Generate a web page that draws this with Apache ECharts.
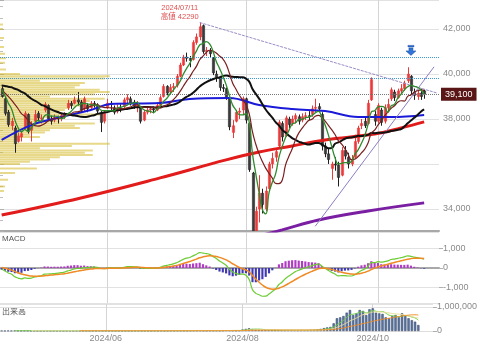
<!DOCTYPE html>
<html><head><meta charset="utf-8">
<script src="https://cdn.jsdelivr.net/npm/echarts@6/dist/echarts.min.js"></script>
<style>html,body{margin:0;padding:0;background:#fff}#c{width:480px;height:350px}</style>
</head><body><div id="c"></div><script>
// ---- DATA ----
const dates = ['2024/04/15','2024/04/16','2024/04/17','2024/04/18','2024/04/19','2024/04/22','2024/04/23','2024/04/24','2024/04/25','2024/04/26','2024/04/30',
'2024/05/01','2024/05/02','2024/05/07','2024/05/08','2024/05/09','2024/05/10','2024/05/13','2024/05/14','2024/05/15','2024/05/16','2024/05/17','2024/05/20','2024/05/21','2024/05/22','2024/05/23','2024/05/24','2024/05/27','2024/05/28','2024/05/29','2024/05/30','2024/05/31',
'2024/06/03','2024/06/04','2024/06/05','2024/06/06','2024/06/07','2024/06/10','2024/06/11','2024/06/12','2024/06/13','2024/06/14','2024/06/17','2024/06/18','2024/06/19','2024/06/20','2024/06/21','2024/06/24','2024/06/25','2024/06/26','2024/06/27','2024/06/28',
'2024/07/01','2024/07/02','2024/07/03','2024/07/04','2024/07/05','2024/07/08','2024/07/09','2024/07/10','2024/07/11','2024/07/12','2024/07/16','2024/07/17','2024/07/18','2024/07/19','2024/07/22','2024/07/23','2024/07/24','2024/07/25','2024/07/26','2024/07/29','2024/07/30','2024/07/31',
'2024/08/01','2024/08/02','2024/08/05','2024/08/06','2024/08/07','2024/08/08','2024/08/09','2024/08/13','2024/08/14','2024/08/15','2024/08/16','2024/08/19','2024/08/20','2024/08/21','2024/08/22','2024/08/23','2024/08/26','2024/08/27','2024/08/28','2024/08/29','2024/08/30',
'2024/09/02','2024/09/03','2024/09/04','2024/09/05','2024/09/06','2024/09/09','2024/09/10','2024/09/11','2024/09/12','2024/09/13','2024/09/17','2024/09/18','2024/09/19','2024/09/20','2024/09/24','2024/09/25','2024/09/26','2024/09/27','2024/09/30',
'2024/10/01','2024/10/02','2024/10/03','2024/10/04','2024/10/07','2024/10/08','2024/10/09','2024/10/10','2024/10/11','2024/10/15','2024/10/16','2024/10/17','2024/10/18','2024/10/21','2024/10/22'];
const padSlots = ['p1','p2','p3','p4'];
const monthTickLabels = ['2024/06','2024/08','2024/10'];

// [open, close, low, high]
const ohlc = [
[39350,39000,38950,39450],[38900,38250,38150,39000],[38300,37750,37650,38400],[37700,37900,37500,38050],[37600,36900,36500,37700],
[37000,37250,36950,37400],[37200,37350,37000,37450],[37600,38250,37550,38350],[38200,37450,37350,38250],[37500,37750,37000,37900],
[37900,38200,37800,38400],[38250,38050,37900,38350],[38000,38050,37800,38200],[38400,38650,38300,38750],[38600,38000,37950,38650],
[38000,37900,37750,38150],[37950,38050,37850,38200],[38050,38000,37800,38150],[38000,38150,37900,38250],[38150,38200,38000,38300],
[38500,38700,38400,38850],[38700,38600,38450,38800],[38700,38850,38650,39000],[38850,38750,38600,39200],[38750,38400,38300,38850],
[38450,38900,38350,39000],[38600,38450,38300,38700],[38500,38700,38450,38800],[38700,38650,38500,38800],[38600,38350,38250,38700],
[38300,37850,37420,38350],[37900,38300,37800,38400],[38500,38700,38450,38900],[38700,38650,38400,38800],[38500,38300,38200,38600],
[38350,38500,38250,38650],[38500,38480,38300,38650],[38550,38850,38450,38950],[38850,38950,38700,39100],[38900,38700,38600,39000],
[38750,38550,38450,38850],[38550,38650,38300,38800],[38500,37900,37800,38550],[37950,38300,37900,38400],[38300,38400,38200,38500],
[38400,38450,38250,38550],[38450,38400,38250,38550],[38400,38600,38350,38700],[38600,38950,38550,39050],[39000,39450,38950,39550],
[39450,39150,39050,39500],[39200,39400,39100,39550],[39400,39450,39200,39600],[39500,39900,39400,40000],[39900,40400,39850,40500],
[40400,40750,40350,40850],[40750,40700,40550,40950],[40700,40600,40300,40800],[40650,41400,40600,41500],[41400,41650,41300,41800],
[41650,42100,41500,42290],[42150,41000,40900,42200],[41000,41050,40800,41200],[41050,40900,40750,41150],[40700,40050,39950,40750],
[40000,39850,39650,40150],[39850,39400,39250,39900],[39400,39380,39200,39550],[39350,38950,38850,39400],[38900,37650,37500,38950],
[37400,37700,37150,37950],[37900,38300,37850,38400],[38300,38350,38000,38500],[38400,38900,38200,39000],[38900,37950,37800,38950],
[37800,35750,35650,37850],[35600,31300,31000,35650],[31800,33900,31500,34100],[34000,34700,33400,35500],[34700,34200,33800,34900],
[34000,34800,33900,35000],[34900,36000,34800,36100],[36000,36250,35800,36500],[36300,36550,36100,36700],[36800,37850,36700,37950],
[37800,37200,37000,37900],[37250,38050,37200,38150],[38000,37750,37600,38100],[37800,38000,37700,38150],[38000,38150,37800,38250],
[38100,37900,37750,38200],[37950,38100,37850,38250],[38100,38150,37950,38300],[38150,38130,37950,38350],[38200,38450,38100,38600],
[38500,38520,38300,38900],[38550,38450,38300,38700],[38200,36800,36600,38300],[36800,36450,36300,36950],[36450,36200,36000,36700],
[35800,36000,35300,36100],[36000,35950,35700,36300],[35950,35400,35000,36100],[35500,36600,35450,36750],[36600,36350,36200,36800],
[36300,36000,35800,36500],[36000,36200,35900,36400],[36300,37000,36250,37300],[37000,37600,36900,37700],[37700,37800,37550,38000],
[37900,37700,37600,38100],[37800,38700,37750,38850],[38850,39750,38800,39850],[38200,37900,37700,38350],[37900,38600,37800,38700],
[38400,37850,37700,38500],[37900,38500,37800,38650],[38500,38650,38300,38900],[38900,39300,38800,39400],[39200,38950,38800,39300],
[38950,39250,38900,39350],[39250,39350,39150,39550],[39350,39600,39250,39700],[39700,40000,39600,40300],[39900,39250,39100,39950],
[39200,39050,38850,39350],[39000,39150,38850,39300],[39150,39000,38850,39350],[39250,39100,38900,39300]];

// closes before the visible range (seed for moving averages / MACD)
const priorCloses = [39030,39040,39010,38970,39710,39910,39900,39890,39400,39490,38620,38600,38500,38610,38510,39540,39800,40610,40690,40210,40200,40560,39970,40170,39600,39640,39250,39570,38790,39150,39570,39380,39240,39320];

const volume = [12000,9000,15000,11000,18000,10000,9000,12000,11000,8000,9000,8000,7000,9000,10000,8000,9000,7000,8000,9000,
10000,9000,8000,9000,10000,9000,8000,7000,8000,9000,12000,10000,9000,8000,9000,8000,7000,9000,8000,8000,
9000,10000,12000,9000,8000,8000,9000,10000,11000,12000,10000,11000,12000,13000,15000,14000,13000,12000,16000,18000,
20000,22000,15000,14000,18000,16000,17000,15000,20000,30000,25000,20000,18000,22000,60000,90000,110000,80000,60000,50000,
45000,35000,30000,32000,40000,35000,30000,28000,30000,32000,30000,28000,30000,32000,35000,40000,45000,60000,90000,120000,
150000,170000,320000,530000,570000,625000,765000,875000,665000,735000,875000,835000,665000,905000,945000,765000,735000,710000,570000,530000,
625000,665000,570000,735000,625000,530000,450000,390000,250000];

// long moving averages: [slot index, value]
const ma75Pts = [[0,37070],[9,37730],[18,38090],[27,38400],[33,38670],[48,38710],[57,38890],[69,38930],[78,38620],[88,38440],[98,38350],[108,38090],[118,38090],[128,38180]];
const ma200Pts = [[0,33730],[24,34490],[48,35380],[68,36180],[78,36530],[88,36800],[98,37070],[113,37330],[121,37600],[128,37870]];
const maLongPts = [[78,32800],[85,33070],[96,33510],[111,33910],[128,34270]];

// volume profile (price level, relative volume)
const profilePrice = [42200,42000,41600,41200,40900,40700,40500,40200,40000,39900,39800,39700,39600,39500,39400,39300,39200,39100,39000,38900,38800,38700,38600,38500,38400,38300,38200,38100,38000,37900,37800,37700,37600,37500,37400,37300,37200,37100,37000,36900,36800,36700,36600,36500,36400,36300,36200,36100,36000,35800,35600,35300,35000,34800];
const profileVol = [3,3,4,4,5,6,5,6,20,110,105,40,85,80,75,100,110,95,50,105,90,85,95,70,65,60,100,55,40,60,95,75,80,50,45,30,40,20,15,110,72,40,93,85,93,60,50,30,20,37,15,8,5,4];

const highLabel = {idx: 60, price: 42290, text: '2024/07/11\n高値 42290'};
const refLevels = {blue1: 40755, blue2: 39820, low: 35872};

// ---- DERIVED ----
const N = dates.length;
const cats = dates.concat(padSlots);
const closes = ohlc.map(d => d[1]);
const P = priorCloses.length;
const allCloses = priorCloses.concat(closes);
function sma(n){
  return closes.map((_, i) => { const j = i + P; if (j + 1 < n) return null;
    let s = 0; for (let k = j - n + 1; k <= j; k++) s += allCloses[k]; return Math.round(s / n); });
}
function ema(arr, n){ const a = 2 / (n + 1); let e; return arr.map((x, i) => (e = i === 0 ? x : a * x + (1 - a) * e)); }
const e12 = ema(allCloses, 12), e26 = ema(allCloses, 26);
const macdAll = e12.map((v, i) => v - e26[i]);
const sigAll = ema(macdAll, 9);
const macd = macdAll.slice(P).map(Math.round), signal = sigAll.slice(P).map(Math.round);
const hist = macd.map((v, i) => v - signal[i]);
function vsma(n){ return volume.map((_, i) => { if (i + 1 < n) return null; let s = 0; for (let k = i - n + 1; k <= i; k++) s += volume[k]; return Math.round(s / n); }); }

const labelIdx = new Set();
cats.forEach((d, i) => { if (i > 0 && d.slice(0,7) !== cats[i-1].slice(0,7) && monthTickLabels.includes(d.slice(0,7))) labelIdx.add(i); });
const monthFn = (i) => labelIdx.has(i);

const fmt = v => Math.round(v).toLocaleString('en-US');
const W = 439;
const axisFont = {color: '#8a8a8a', fontSize: 9, fontFamily: 'Liberation Sans'};
const UP = '#e83a3a', DOWN = '#3a3a3a', DOWN_EDGE = '#1e1e1e';

const catAxis = (grid, extra) => Object.assign({
  type: 'category', gridIndex: grid, data: cats, boundaryGap: true,
  axisTick: {show: false}, axisLabel: {show: false},
  splitLine: {show: true, interval: monthFn, alignWithLabel: true, lineStyle: {color: '#d4d4d4', width: 1}},
  axisLine: {show: true, lineStyle: {color: '#a8a8a8', width: 2}}
}, extra);

const option = {
  animation: false,
  textStyle: {fontFamily: 'Liberation Sans, Noto Sans CJK JP, sans-serif'},
  grid: [
    {left: 0, top: 0, width: W, height: 231},
    {left: 0, top: 232, width: W, height: 71},
    {left: 0, top: 304, width: W, height: 27}
  ],
  xAxis: [
    catAxis(0),
    {type: 'value', gridIndex: 0, min: 0, max: 440, show: false},
    catAxis(1),
    catAxis(2, {axisLine: {show: true, lineStyle: {color: '#dddddd', width: 1}},
      axisLabel: {show: true, interval: monthFn, formatter: v => v.slice(0,7), margin: 3, ...axisFont}})
  ],
  yAxis: [
    {type: 'value', gridIndex: 0, position: 'right', min: 33020, max: 43290, splitNumber: 5, scale: true,
     axisLine: {show: false}, axisTick: {show: true, length: 4, lineStyle: {color: '#b0b0b0'}},
     minorTick: {show: true, splitNumber: 4, length: 3, lineStyle: {color: '#c0c0c0'}},
     splitLine: {lineStyle: {color: '#e2e2e2'}},
     axisLabel: {showMinLabel: false, showMaxLabel: false, margin: 4, formatter: v => v === 36000 ? '' : fmt(v), ...axisFont}},
    {type: 'value', gridIndex: 1, position: 'right', min: -1800, max: 1850, splitNumber: 3,
     axisLine: {show: false}, axisTick: {show: true, length: 4, lineStyle: {color: '#b0b0b0'}},
     splitLine: {lineStyle: {color: '#e2e2e2'}},
     axisLabel: {showMinLabel: false, showMaxLabel: false, margin: 4, formatter: fmt, ...axisFont}},
    {type: 'value', gridIndex: 2, position: 'right', min: 0, max: 1125000, interval: 1000000,
     axisLine: {show: false}, axisTick: {show: true, length: 4, lineStyle: {color: '#b0b0b0'}},
     splitLine: {lineStyle: {color: '#e2e2e2'}},
     axisLabel: {showMaxLabel: false, margin: 4, formatter: fmt, ...axisFont}}
  ],
  graphic: [
    {type: 'text', left: 2, top: 235, style: {text: 'MACD', fill: '#555', font: '8px Liberation Sans'}},
    {type: 'text', left: 2, top: 307, style: {text: '出来高', fill: '#555', font: '8px Noto Sans CJK JP'}}
  ],
  series: [
    {type: 'custom', name: 'profile', xAxisIndex: 1, yAxisIndex: 0, z: 1, clip: true,
     data: profilePrice.map((p, i) => [profileVol[i], p]),
     encode: {x: 0, y: 1},
     renderItem: (params, api) => {
       const s = api.coord([0, api.value(1)]), e = api.coord([api.value(0), api.value(1)]);
       return {type: 'rect', shape: {x: s[0], y: s[1] - 1, width: e[0] - s[0], height: 2},
               style: {fill: 'rgba(212,186,40,0.55)'}};
     }},
    {type: 'custom', name: 'price', xAxisIndex: 0, yAxisIndex: 0, z: 3, clip: true,
     data: ohlc.map((d, i) => [i, d[0], d[1], d[2], d[3]]),
     encode: {x: 0, y: [1, 2, 3, 4]},
     renderItem: (params, api) => {
       const i = api.value(0), o = api.value(1), c = api.value(2), l = api.value(3), h = api.value(4);
       const po = api.coord([i, o]), pc = api.coord([i, c]), pl = api.coord([i, l]), ph = api.coord([i, h]);
       const w = Math.max(1.5, api.size([1, 0])[0] * 0.7);
       const up = c >= o;
       const x = Math.round(po[0]) + 0.5;
       const top = Math.min(po[1], pc[1]), bot = Math.max(po[1], pc[1]);
       return {type: 'group', children: [
         {type: 'line', shape: {x1: x, y1: ph[1], x2: x, y2: pl[1]}, style: {stroke: up ? UP : DOWN_EDGE, lineWidth: 1}},
         {type: 'rect', shape: {x: x - w / 2, y: top, width: w, height: Math.max(bot - top, 1)},
          style: {fill: up ? UP : DOWN, stroke: up ? UP : DOWN_EDGE, lineWidth: 0.5}}
       ]};
     }},
    {type: 'line', name: 'MA200', xAxisIndex: 0, yAxisIndex: 0, z: 4, data: ma200Pts, smooth: 0.4, symbol: 'none', lineStyle: {color: '#e21b1b', width: 3},
     markLine: {symbol: ['none','none'], silent: true, animation: false, label: {show: false},
       data: [
         {yAxis: refLevels.blue1, lineStyle: {color: '#3a9ad9', type: 'dotted', width: 1}},
         {yAxis: refLevels.blue2, lineStyle: {color: '#3a9ad9', type: 'dotted', width: 1}},
         {yAxis: closes[N-1], lineStyle: {color: '#777', type: 'dotted', width: 1},
          label: {show: true, position: 'end', distance: 2, formatter: fmt(closes[N-1]), backgroundColor: '#5a1616',
                  color: '#fff', padding: [2, 4], fontSize: 9, fontFamily: 'Liberation Sans'}},
         {yAxis: refLevels.low, lineStyle: {color: '#ccc', width: 0, opacity: 0},
          label: {show: true, position: 'end', distance: 1, formatter: fmt(refLevels.low), backgroundColor: '#111',
                  color: '#fff', padding: [1, 3], fontSize: 9, fontFamily: 'Liberation Sans'}},
         [{coord: [60, 42290], lineStyle: {color: '#9a8cc6', width: 1, type: [3, 1]}}, {coord: [132, 39150]}],
         [{coord: [95, 33230], lineStyle: {color: '#8c7cc4', width: 1, type: 'solid'}}, {coord: [131, 40320]}]
       ]},
     markPoint: {silent: true, animation: false,
       data: [
         {coord: [highLabel.idx, highLabel.price], symbol: 'circle', symbolSize: 1, itemStyle: {color: 'rgba(0,0,0,0)'},
          label: {show: true, position: 'inside', offset: [-20, -10], formatter: highLabel.text, color: '#e05050',
                  fontSize: 7.5, lineHeight: 9, fontFamily: 'Liberation Sans, Noto Sans CJK JP'}},
         {coord: [124, 41050], symbol: 'path://M2,0L8,0L8,1.5L2,1.5Z M3,2.5L7,2.5L7,5.5L10,5.5L5,10L0,5.5L3,5.5Z', symbolSize: [10, 10],
          itemStyle: {color: '#2f74d8', borderColor: '#1a4a9a', borderWidth: 0.5}, label: {show: false}}
       ]}},
    {type: 'line', name: 'MA-long', xAxisIndex: 0, yAxisIndex: 0, z: 4, data: maLongPts, smooth: 0.4, symbol: 'none', lineStyle: {color: '#7b1fa2', width: 3}},
    {type: 'line', name: 'MA75', xAxisIndex: 0, yAxisIndex: 0, z: 4, data: ma75Pts, smooth: 0.4, symbol: 'none', lineStyle: {color: '#1a1ad8', width: 2}},
    {type: 'line', name: 'MA25', xAxisIndex: 0, yAxisIndex: 0, z: 5, data: sma(25), smooth: true, symbol: 'none', lineStyle: {color: '#111', width: 2}},
    {type: 'line', name: 'MA10', xAxisIndex: 0, yAxisIndex: 0, z: 5, data: sma(10), smooth: true, symbol: 'none', lineStyle: {color: '#7a1f1f', width: 1.2}},
    {type: 'line', name: 'MA5', xAxisIndex: 0, yAxisIndex: 0, z: 5, data: sma(5), smooth: true, symbol: 'none', lineStyle: {color: '#2e8b2e', width: 1.3}},
    {type: 'bar', name: 'hist', xAxisIndex: 2, yAxisIndex: 1, barWidth: '65%', z: 2,
     data: hist.map(v => ({value: v, itemStyle: {color: v >= 0 ? '#b03cc4' : '#4038b0'}}))},
    {type: 'line', name: 'MACD', xAxisIndex: 2, yAxisIndex: 1, data: macd, smooth: true, symbol: 'none', z: 3, lineStyle: {color: '#6ccc34', width: 1.2}},
    {type: 'line', name: 'signal', xAxisIndex: 2, yAxisIndex: 1, data: signal, smooth: true, symbol: 'none', z: 3, lineStyle: {color: '#f08a24', width: 1.5}},
    {type: 'bar', name: 'vol', xAxisIndex: 3, yAxisIndex: 2, barWidth: '70%', data: volume,
     itemStyle: {color: '#5a78a8', borderColor: '#2c3c5c', borderWidth: 0.5}},
    {type: 'line', name: 'vma5', xAxisIndex: 3, yAxisIndex: 2, data: vsma(5), smooth: true, symbol: 'none', lineStyle: {color: '#70cc40', width: 1}},
    {type: 'line', name: 'vma10', xAxisIndex: 3, yAxisIndex: 2, data: vsma(10), smooth: true, symbol: 'none', lineStyle: {color: '#e6dc96', width: 1}},
    {type: 'line', name: 'vma25', xAxisIndex: 3, yAxisIndex: 2, data: vsma(25), smooth: true, symbol: 'none', lineStyle: {color: '#f08a24', width: 1}}
  ]
};
const chart = echarts.init(document.getElementById('c'), null, {renderer: 'canvas'});
chart.setOption(option);
</script></body></html>
